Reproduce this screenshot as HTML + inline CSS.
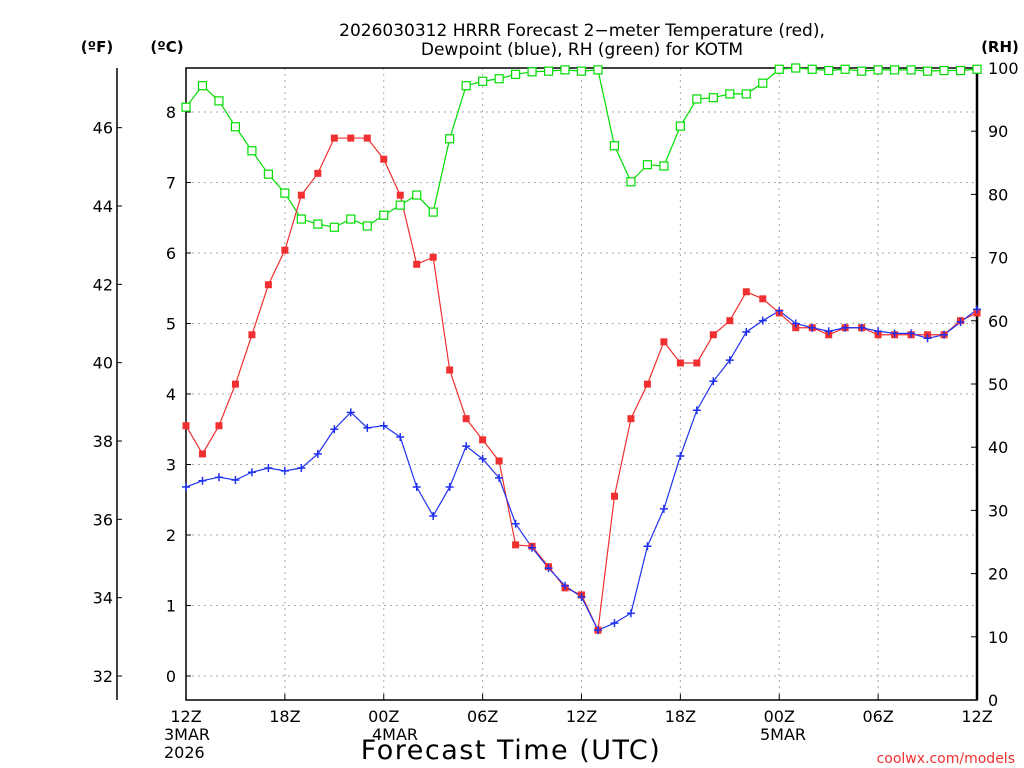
<!DOCTYPE html>
<html><head><meta charset="utf-8"><style>
body{margin:0;background:#fff;}
svg{display:block;font-family:"DejaVu Sans","Liberation Sans",sans-serif;}
</style></head><body>
<svg id="chart" width="1024" height="768" viewBox="0 0 1024 768" xmlns="http://www.w3.org/2000/svg">
<rect width="1024" height="768" fill="#fff"/>
<text x="582" y="36" font-size="17" text-anchor="middle">2026030312 HRRR Forecast 2−meter Temperature (red),</text>
<text x="582" y="55" font-size="17" text-anchor="middle">Dewpoint (blue), RH (green) for KOTM</text>
<text x="97" y="52" font-size="15" font-weight="bold" text-anchor="middle">(ºF)</text>
<text x="167" y="52" font-size="15" font-weight="bold" text-anchor="middle">(ºC)</text>
<text x="1000" y="52" font-size="15" font-weight="bold" text-anchor="middle">(RH)</text>
<text x="511" y="759" font-size="27" letter-spacing="1.5" text-anchor="middle">Forecast Time (UTC)</text>
<text x="1015" y="763" font-size="14" fill="#f03030" text-anchor="end">coolwx.com/models</text>
<g id="grid"></g><g id="axes"></g><g id="series"></g>
</svg>
<script>
const hours = Array.from({length:49},(_,i)=>i);
const tempC = [3.55,3.15,3.55,4.14,4.84,5.55,6.04,6.82,7.13,7.63,7.63,7.63,7.33,6.82,5.84,5.94,4.34,3.65,3.35,3.05,1.86,1.84,1.55,1.25,1.15,0.65,2.55,3.65,4.14,4.74,4.44,4.44,4.84,5.04,5.45,5.35,5.15,4.94,4.94,4.84,4.94,4.94,4.84,4.84,4.84,4.84,4.84,5.04,5.15];
const dewC = [2.68,2.77,2.82,2.78,2.89,2.95,2.91,2.95,3.15,3.5,3.74,3.52,3.55,3.39,2.68,2.27,2.68,3.26,3.08,2.81,2.16,1.82,1.53,1.28,1.12,0.65,0.75,0.89,1.84,2.37,3.12,3.77,4.18,4.48,4.88,5.04,5.18,5.0,4.94,4.89,4.94,4.94,4.89,4.86,4.86,4.79,4.84,5.02,5.2];
const rh = [93.8,97.2,94.8,90.7,86.9,83.2,80.2,76.1,75.3,74.8,76.1,75,76.7,78.3,79.9,77.2,88.8,97.2,97.9,98.3,99,99.4,99.5,99.7,99.5,99.7,87.7,82,84.7,84.5,90.8,95.1,95.3,95.9,95.9,97.6,99.8,100,99.8,99.6,99.8,99.5,99.7,99.7,99.7,99.5,99.6,99.6,99.8];
const cTicks = [0,1,2,3,4,5,6,7,8];
const fTicks = [32,34,36,38,40,42,44,46];
const rhTicks = [0,10,20,30,40,50,60,70,80,90,100];
const xTickLabels = ["12Z","18Z","00Z","06Z","12Z","18Z","00Z","06Z","12Z"];

const NS="http://www.w3.org/2000/svg";
const X0=186,X1=977,YT=68,YB=700;
const x=h=>X0+(X1-X0)*h/48;
const yC=c=>676-70.5*c;
const yF=f=>yC((f-32)/1.8);
const yR=r=>YB-(YB-YT)*r/100;
function mk(tag,attrs,parent){const e=document.createElementNS(NS,tag);for(const k in attrs)e.setAttribute(k,attrs[k]);parent.appendChild(e);return e;}
const grid=document.getElementById('grid'),axes=document.getElementById('axes'),series=document.getElementById('series');

cTicks.forEach(c=>{
  const l=mk('line',{x1:X0,x2:X1,y1:yC(c),y2:yC(c),stroke:'#aaa','stroke-dasharray':'2,4'},grid);
  
  
  const t=mk('text',{x:176,y:yC(c)+6,'font-size':16,'text-anchor':'end'},axes);t.textContent=c;
  
  
  mk('line',{x1:X0,x2:X0+5,y1:yC(c),y2:yC(c),stroke:'#000'},axes);
});
xTickLabels.forEach((lab,i)=>{
  const xx=x(i*6);
  if(i>0&&i<8){const l=mk('line',{x1:xx,x2:xx,y1:YT,y2:YB,stroke:'#aaa','stroke-dasharray':'2,4'},grid);
    
    }
  mk('line',{x1:xx,x2:xx,y1:YB,y2:YB-6,stroke:'#000'},axes);
  const t=mk('text',{x:xx,y:722,'font-size':16,'text-anchor':'middle'},axes);t.textContent=lab;
  
  
});
[[0,"3MAR"],[0,"2026",1],[4,"4MAR"],[12,"5MAR"]].forEach(d=>{
  const xs=d[0]===0?164:(d[0]===4?372:760);
  const t=mk('text',{x:xs,y:d[2]?758:740,'font-size':16},axes);t.textContent=d[1];
  
  
});
fTicks.forEach(f=>{
  mk('line',{x1:117,x2:122,y1:yF(f),y2:yF(f),stroke:'#000'},axes);
  const t=mk('text',{x:113,y:yF(f)+6,'font-size':16,'text-anchor':'end'},axes);t.textContent=f;
  
  
});
rhTicks.forEach(r=>{
  mk('line',{x1:X1,x2:X1-6,y1:yR(r),y2:yR(r),stroke:'#000'},axes);
  const t=mk('text',{x:988,y:yR(r)+6,'font-size':16},axes);t.textContent=r;
  
  
});
mk('rect',{x:X0,y:YT,width:X1-X0,height:YB-YT,fill:'none',stroke:'#000','stroke-width':1.5},axes);
mk('line',{x1:X1,x2:X1,y1:YT,y2:YB,stroke:'#000','stroke-width':2.5},axes);
mk('line',{x1:117,x2:117,y1:YT,y2:YB,stroke:'#000','stroke-width':1.5},axes);

function line(vals,fy,color,name){
  const p=mk('polyline',{points:vals.map((v,i)=>x(hours[i])+','+fy(v)).join(' '),fill:'none',stroke:color,'stroke-width':1.2},series);
  
  
}
line(rh,yR,'#00dd00','rh-line');
line(tempC,yC,'#f03030','temperature-line');
line(dewC,yC,'#2030f0','dewpoint-line');
rh.forEach((v,i)=>{const m=mk('rect',{x:x(hours[i])-4,y:yR(v)-4,width:8,height:8,fill:'#fff',stroke:'#00dd00','stroke-width':1.2},series);
  
  });
tempC.forEach((v,i)=>{const m=mk('rect',{x:x(hours[i])-3.5,y:yC(v)-3.5,width:7,height:7,fill:'#f03030'},series);
  
  });
dewC.forEach((v,i)=>{const xx=x(hours[i]),yy=yC(v);
  const m=mk('path',{d:`M${xx-4},${yy}H${xx+4}M${xx},${yy-4}V${yy+4}`,stroke:'#2030f0','stroke-width':1.5},series);
  
  });
</script>
</body></html>
